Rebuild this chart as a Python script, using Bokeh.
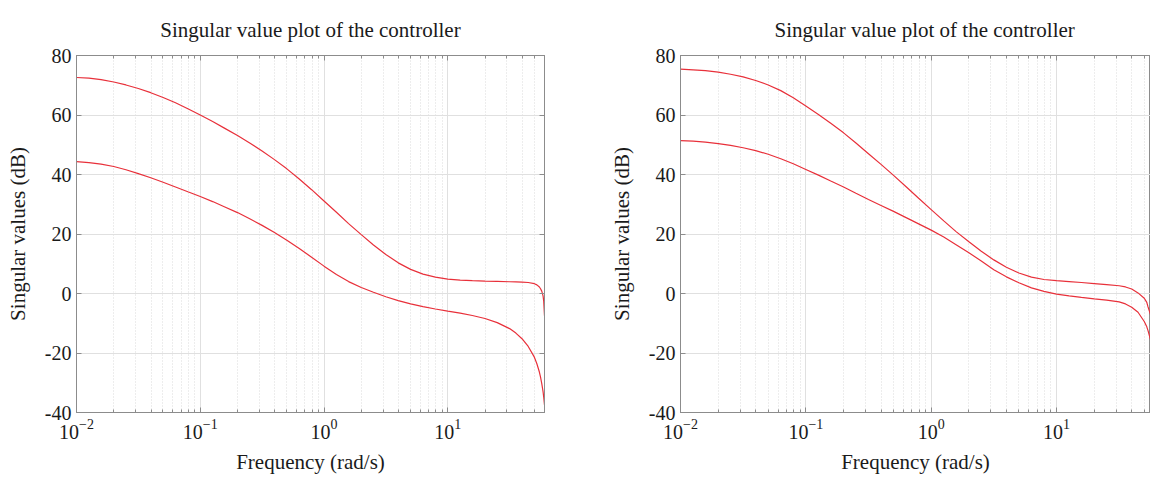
from bokeh.plotting import figure
from bokeh.layouts import row
from bokeh.models import FixedTicker, LinearAxis, Range1d
from bokeh.embed import file_html
from bokeh.resources import INLINE

# ---------------- data ----------------
title_text = "Singular value plot of the controller"
x_label = "Frequency (rad/s)"
y_label = "Singular values (dB)"

y_ticks = [-40, -20, 0, 20, 40, 60, 80]
y_tick_labels = {-40: "-40", -20: "-20", 0: "0", 20: "20", 40: "40", 60: "60", 80: "80"}
x_major_ticks = [0.01, 0.1, 1, 10]

# Left panel (frequency in rad/s, singular values in dB)
left_freq = [0.01, 0.0126, 0.0158, 0.02, 0.0251, 0.0316, 0.0398, 0.0501, 0.0631, 0.0794,
             0.1, 0.126, 0.158, 0.2, 0.251, 0.316, 0.398, 0.501, 0.631, 0.794,
             1.0, 1.26, 1.58, 2.0, 2.51, 3.16, 3.98, 5.01, 6.31, 7.94,
             10, 12.6, 15.8, 20, 25.1, 31.6, 35.5, 39.8, 44.7, 50.1, 52.5, 55.0, 56.2,
             57.5, 58.9, 59.6, 60.5]
left_sv_upper = [72.6, 72.4, 71.9, 71.1, 70.1, 68.9, 67.5, 65.9, 64.1, 62.1,
                 60.0, 57.8, 55.5, 53.1, 50.6, 47.9, 45.0, 41.9, 38.5, 34.9,
                 31.1, 27.3, 23.5, 19.8, 16.3, 13.1, 10.3, 8.1, 6.5, 5.5,
                 4.85, 4.5, 4.3, 4.15, 4.05, 3.95, 3.9, 3.8, 3.7, 3.3, 2.9, 2.2, 1.6,
                 0.8, -0.8, -2.5, -7.5]
left_sv_lower = [44.3, 44.0, 43.5, 42.7, 41.6, 40.3, 38.9, 37.4, 35.8, 34.2,
                 32.6, 30.9, 29.1, 27.2, 25.1, 22.9, 20.5, 17.9, 15.1, 12.2,
                 9.2, 6.4, 4.0, 2.0, 0.4, -1.1, -2.4, -3.5, -4.4, -5.2,
                 -5.9, -6.6, -7.4, -8.4, -9.8, -11.8, -13.3, -15.2, -17.8, -21.4, -23.6,
                 -26.4, -28.1, -30.3, -33.0, -34.8, -37.5]

# Right panel
right_freq = [0.01, 0.0126, 0.0158, 0.02, 0.0251, 0.0316, 0.0398, 0.0501, 0.0631, 0.0794,
              0.1, 0.126, 0.158, 0.2, 0.251, 0.316, 0.398, 0.501, 0.631, 0.794,
              1.0, 1.26, 1.58, 2.0, 2.51, 3.16, 3.98, 5.01, 6.31, 7.94,
              10, 12.6, 15.8, 20, 25.1, 31.6, 35.5, 39.8, 44.7, 50.1, 52.5, 53.7, 56.2]
right_sv_upper = [75.4, 75.2, 74.9, 74.4, 73.7, 72.8, 71.6, 70.1, 68.2, 65.8,
                  63.0, 60.2, 57.2, 54.0, 50.6, 47.0, 43.4, 39.7, 35.9, 32.0,
                  28.2, 24.4, 20.8, 17.4, 14.2, 11.3, 8.8, 6.9, 5.5, 4.7,
                  4.3, 4.0, 3.7, 3.35, 3.0, 2.6, 2.2, 1.5, 0.2, -1.6, -3.0, -4.5, -7.1]
right_sv_lower = [51.4, 51.2, 50.9, 50.4, 49.8, 49.0, 48.0, 46.8, 45.3, 43.6,
                  41.7, 39.8, 37.8, 35.8, 33.7, 31.6, 29.6, 27.6, 25.5, 23.4,
                  21.3, 19.0, 16.4, 13.7, 10.9, 8.0, 5.6, 3.6, 1.9, 0.7,
                  -0.2, -0.8, -1.3, -1.8, -2.2, -2.8, -3.5, -4.6, -6.3, -9.4, -11.2,
                  -12.5, -15.5]

left_x_end = 60.5
right_x_end = 56.2

# ---------------- styling ----------------
FONT = "Liberation Serif"
LINE_COLOR = "#e8303a"
AXIS_COLOR = "#8c8c8c"
TEXT_COLOR = "#1a1a1a"
GRID_COLOR = "#e0e0e0"


def minor_ticks(xmax):
    out = []
    for d in x_major_ticks:
        for k in range(2, 10):
            v = k * d
            if v <= xmax:
                out.append(v)
    return out


def make_panel(xmax, f, su, sl, ml, fw, mr, right_axis=True, title_align="center", title_offset=0):
    p = figure(x_axis_type="log", x_range=Range1d(0.01, xmax), y_range=Range1d(-40, 80),
               frame_width=fw, frame_height=357,
               min_border_left=ml, min_border_right=mr, min_border_top=55, min_border_bottom=68,
               output_backend="svg", toolbar_location=None)
    p.background_fill_color = "white"
    p.border_fill_color = "white"
    p.outline_line_color = AXIS_COLOR

    p.title.text = title_text
    p.title.text_font = FONT
    p.title.text_font_size = "21px"
    p.title.text_font_style = "normal"
    p.title.text_color = TEXT_COLOR
    p.title.align = title_align
    p.title.offset = title_offset
    p.title.standoff = 28

    xt = FixedTicker(ticks=x_major_ticks, minor_ticks=minor_ticks(xmax))
    yt = FixedTicker(ticks=y_ticks, minor_ticks=[])

    xa = p.xaxis[0]
    xa.ticker = xt
    xa.axis_label = x_label
    ya = p.yaxis[0]
    ya.ticker = yt
    ya.axis_label = y_label
    ya.major_label_overrides = y_tick_labels

    for ax in (xa, ya):
        ax.axis_label_text_font = FONT
        ax.axis_label_text_font_size = "21px"
        ax.axis_label_text_font_style = "normal"
        ax.axis_label_text_color = TEXT_COLOR
        ax.major_label_text_font = FONT
        ax.major_label_text_font_size = "20px"
        ax.major_label_text_color = TEXT_COLOR
        ax.axis_line_color = AXIS_COLOR
        ax.major_tick_line_color = AXIS_COLOR
        ax.minor_tick_line_color = AXIS_COLOR
        ax.major_tick_in = 5
        ax.major_tick_out = 0
        ax.minor_tick_in = 3
        ax.minor_tick_out = 0
    xa.major_label_standoff = 6
    xa.axis_label_standoff = 8
    ya.major_label_standoff = 5
    ya.axis_label_standoff = 12

    # top ticks (box style); labels invisible
    top = LinearAxis(ticker=xt, major_label_text_font_size="1px", major_label_text_alpha=0,
                     major_label_standoff=0,
                     axis_line_color=AXIS_COLOR, major_tick_line_color=AXIS_COLOR,
                     minor_tick_line_color=AXIS_COLOR, major_tick_in=5, major_tick_out=0,
                     minor_tick_in=3, minor_tick_out=0)
    p.add_layout(top, "above")
    if right_axis:
        rt = LinearAxis(ticker=yt, major_label_text_font_size="1px", major_label_text_alpha=0,
                        major_label_standoff=0,
                        axis_line_color=AXIS_COLOR, major_tick_line_color=AXIS_COLOR,
                        major_tick_in=5, major_tick_out=0)
        p.add_layout(rt, "right")

    p.xgrid.ticker = xt
    p.ygrid.ticker = yt
    p.xgrid.grid_line_color = GRID_COLOR
    p.ygrid.grid_line_color = GRID_COLOR
    p.xgrid.minor_grid_line_color = "#dadada"
    p.xgrid.minor_grid_line_dash = "1 2"

    p.line(f, su, line_color=LINE_COLOR, line_width=1.2)
    p.line(f, sl, line_color=LINE_COLOR, line_width=1.2)
    return p


p1 = make_panel(left_x_end, left_freq, left_sv_upper, left_sv_lower,
                ml=76, fw=468, mr=56, right_axis=True)
p2 = make_panel(right_x_end, right_freq, right_sv_upper, right_sv_lower,
                ml=80, fw=470, mr=0, right_axis=False, title_align="left", title_offset=94)

layout = row(p1, p2)
open("out.html", "w").write(file_html(layout, INLINE))
